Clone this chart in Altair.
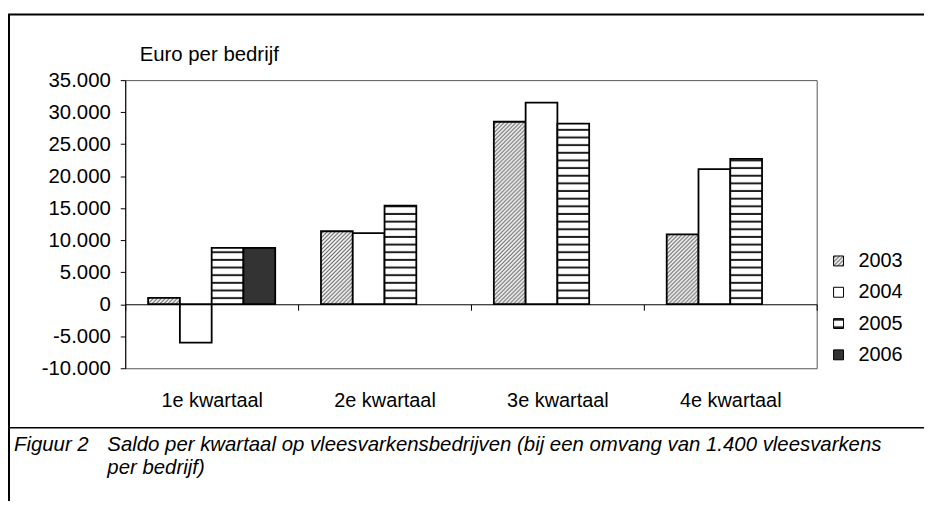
import altair as alt
import pandas as pd
import jinja2

# ---------------- data ----------------
quarters = ["1e kwartaal", "2e kwartaal", "3e kwartaal", "4e kwartaal"]
years = ["2003", "2004", "2005", "2006"]
saldo_2003 = [1000, 11400, 28500, 10900]
saldo_2004 = [-6000, 11100, 31500, 21100]
saldo_2005 = [8800, 15400, 28200, 22700]
saldo_2006 = [8800, None, None, None]
y_ticks = [-10000, -5000, 0, 5000, 10000, 15000, 20000, 25000, 30000, 35000]
y_title = "Euro per bedrijf"
caption_label = ["Figuur 2"]
caption_lines = [
    "Saldo per kwartaal op vleesvarkensbedrijven (bij een omvang van 1.400 vleesvarkens",
    "per bedrijf)",
]

series = {"2003": saldo_2003, "2004": saldo_2004, "2005": saldo_2005, "2006": saldo_2006}
rows = []
for yr, vals in series.items():
    for q, v in zip(quarters, vals):
        if v is not None:
            rows.append({"kwartaal": q, "jaar": yr, "saldo": v})
df = pd.DataFrame(rows)

fill_range = ["url(#hatch2003)", "#ffffff", "url(#stripe2005)", "#333333"]
FONT = "Liberation Sans, Arial, sans-serif"

bars = alt.Chart(df).mark_bar(stroke="black", strokeWidth=1.8).encode(
    x=alt.X(
        "kwartaal:N",
        sort=quarters,
        scale=alt.Scale(domain=quarters, paddingInner=0, paddingOuter=0),
        axis=alt.Axis(
            title=None, orient="bottom", offset=-64.4, tickBand="extent",
            tickSize=6, tickColor="black", domainColor="black", domainWidth=1,
            labelFont=FONT, labelFontSize=20, labelColor="black",
            labelPadding=81, labelAngle=0, zindex=1,
        ),
    ),
    xOffset=alt.XOffset(
        "jaar:N", sort=years,
        scale=alt.Scale(domain=years, paddingInner=0, paddingOuter=0.72),
    ),
    y=alt.Y(
        "saldo:Q",
        scale=alt.Scale(domain=[-10000, 35000], nice=False),
        axis=alt.Axis(
            values=y_ticks, format=",.0f", title=y_title, titleAngle=0,
            titleAlign="left", titleBaseline="alphabetic", titleX=14, titleY=-20,
            titleFont=FONT, titleFontSize=20.5, titleFontWeight="normal",
            titleColor="black", labelFont=FONT, labelFontSize=20.5,
            labelColor="black", labelPadding=10, tickSize=5, tickColor="black",
            domainColor="black", grid=False, labelFlush=False, labelOverlap=False,
        ),
    ),
    fill=alt.Fill(
        "jaar:N", title=None,
        scale=alt.Scale(domain=years, range=fill_range),
        legend=alt.Legend(
            orient="none", legendX=708, legendY=172, symbolType="square",
            symbolSize=100, symbolStrokeColor="black", symbolStrokeWidth=1,
            labelFont=FONT, labelFontSize=20, labelColor="black",
            labelOffset=10, rowPadding=11.5, padding=0,
        ),
    ),
)

one = pd.DataFrame({"k": [0]})
frame = alt.Chart(one).mark_rect(fill="white", fillOpacity=0, stroke="black", strokeWidth=2).encode(
    x=alt.value(-117), x2=alt.value(900), y=alt.value(-66), y2=alt.value(700)
)
cap_rule = alt.Chart(one).mark_rule(color="black", strokeWidth=1.5).encode(
    x=alt.value(-118), x2=alt.value(900), y=alt.value(350)
)
cap_style = dict(align="left", baseline="alphabetic", font=FONT, fontSize=20.5,
                 fontStyle="italic", color="black")
cap_lab = alt.Chart(pd.DataFrame({"t": caption_label})).mark_text(**cap_style).encode(
    text="t:N", x=alt.value(-112), y=alt.value(373)
)
cap_txt1 = alt.Chart(pd.DataFrame({"t": [caption_lines[0]]})).mark_text(**cap_style).encode(
    text="t:N", x=alt.value(-18), y=alt.value(373)
)
cap_txt2 = alt.Chart(pd.DataFrame({"t": [caption_lines[1]]})).mark_text(**cap_style).encode(
    text="t:N", x=alt.value(-18), y=alt.value(396)
)

chart = alt.layer(frame, bars, cap_rule, cap_lab, cap_txt1, cap_txt2).properties(
    width=696, height=290,
    padding={"left": 118, "top": 71, "right": 108, "bottom": 132},
    autosize=alt.AutoSizeParams(type="none"),
).configure(
    locale={"number": {"decimal": ",", "thousands": ".", "grouping": [3],
                       "currency": ["€ ", ""], "minus": "-"}}
).configure_view(stroke="#555555", strokeWidth=1)

TEMPLATE = jinja2.Template("""<!DOCTYPE html>
<html>
<head>
  <meta charset="utf-8">
  <style>
    #{{ output_div }}.vega-embed { width: 100%; display: flex; }
    #{{ output_div }}.vega-embed details, #{{ output_div }}.vega-embed details summary { position: relative; }
  </style>
  <script type="text/javascript" src="{{ base_url }}/vega@{{ vega_version }}"></script>
  <script type="text/javascript" src="{{ base_url }}/vega-lite@{{ vegalite_version }}"></script>
  <script type="text/javascript" src="{{ base_url }}/vega-embed@{{ vegaembed_version }}"></script>
</head>
<body>
  <svg width="0" height="0" style="position:absolute;width:0;height:0;overflow:hidden" aria-hidden="true">
    <defs>
      <pattern id="hatch2003" patternUnits="userSpaceOnUse" width="4" height="4">
        <rect width="4" height="4" fill="#ffffff"/>
        <path d="M-1,1 l2,-2 M0,4 l4,-4 M3,5 l2,-2" stroke="#5e5e5e" stroke-width="1.2"/>
      </pattern>
      <pattern id="stripe2005" patternUnits="userSpaceOnUse" width="8" height="7.7">
        <rect width="8" height="7.7" fill="#ffffff"/>
        <rect y="2.8" width="8" height="2" fill="#1e1e1e"/>
      </pattern>
    </defs>
  </svg>
  <div id="{{ output_div }}"></div>
  <script>
    (function(vegaEmbed) {
      var spec = {{ spec }};
      var embedOpt = {{ embed_options }};
      const el = document.getElementById('{{ output_div }}');
      vegaEmbed("#{{ output_div }}", spec, embedOpt).catch(function(error) {
        el.innerHTML = '<div style="color:red;">' + error.message + '</div>';
        console.error(error);
      });
    })(vegaEmbed);
  </script>
</body>
</html>
""")

chart.save("out.html", embed_options={"renderer": "svg", "actions": False}, template=TEMPLATE)
